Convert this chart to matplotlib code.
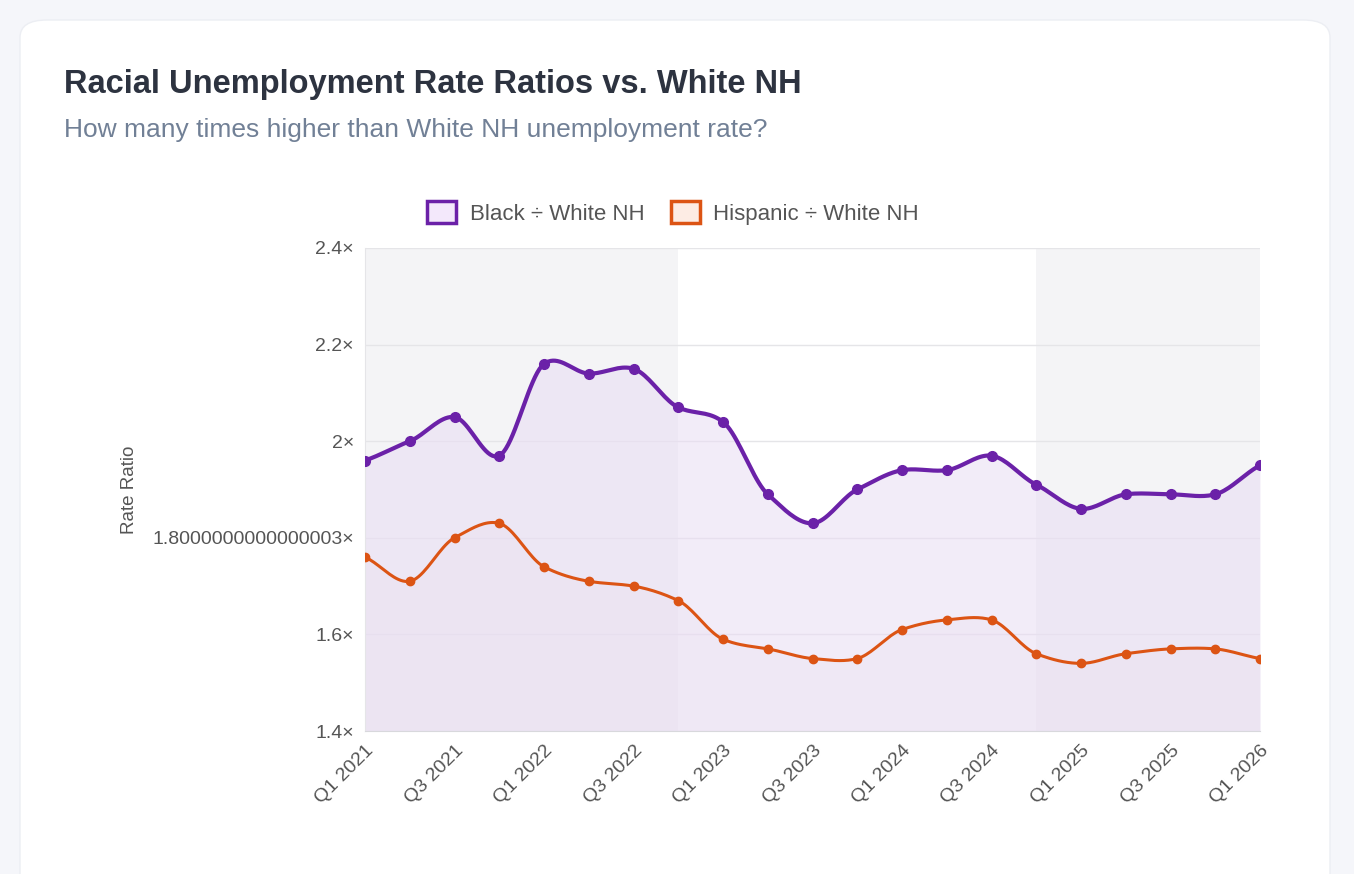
import matplotlib.pyplot as plt
import numpy as np
from matplotlib.patches import FancyBboxPatch

plt.rcParams['font.family'] = ['Liberation Sans', 'DejaVu Sans']

quarters = [f"Q{q} {y}" for y in range(2021, 2027) for q in range(1, 5)][:21]
black_ratio = [1.96, 2.00, 2.05, 1.97, 2.16, 2.14, 2.15, 2.07, 2.04, 1.89, 1.83,
               1.90, 1.94, 1.94, 1.97, 1.91, 1.86, 1.89, 1.89, 1.89, 1.95]
hisp_ratio = [1.76, 1.71, 1.80, 1.83, 1.74, 1.71, 1.70, 1.67, 1.59, 1.57, 1.55,
              1.55, 1.61, 1.63, 1.63, 1.56, 1.54, 1.56, 1.57, 1.57, 1.55]
y_ticks = [1.4, 1.6, 1.8000000000000003, 2.0, 2.2, 2.4]
y_labels = ["1.4×", "1.6×", "1.8000000000000003×", "2×", "2.2×", "2.4×"]
shade_spans = [(0, 7), (15, 20)]

PURPLE = "#6b21a8"
ORANGE = "#dc5414"


def smooth(y, n=20, t=0.4):
    """Cardinal spline through the points, for drawing only."""
    y = np.asarray(y, float)
    x = np.arange(len(y), dtype=float)
    xs, ys = [], []
    for i in range(len(y) - 1):
        m0 = (y[i + 1] - y[max(i - 1, 0)]) * t if i > 0 else (y[1] - y[0]) * t * 2
        m1 = (y[min(i + 2, len(y) - 1)] - y[i]) * t if i < len(y) - 2 else (y[-1] - y[-2]) * t * 2
        s = np.linspace(0, 1, n, endpoint=False)
        h00 = 2 * s**3 - 3 * s**2 + 1
        h10 = s**3 - 2 * s**2 + s
        h01 = -2 * s**3 + 3 * s**2
        h11 = s**3 - s**2
        xs.append(x[i] + s)
        ys.append(h00 * y[i] + h10 * m0 + h01 * y[i + 1] + h11 * m1)
    xs.append([x[-1]])
    ys.append([y[-1]])
    return np.concatenate(xs), np.concatenate(ys)


fig = plt.figure(figsize=(13.54, 8.74), dpi=100)
fig.patch.set_facecolor("#f5f6fa")
card = FancyBboxPatch((20 / 1354, -0.05), 1310 / 1354, 1.0 - 20 / 874 + 0.05,
                      boxstyle="round,pad=0,rounding_size=0.02", transform=fig.transFigure,
                      facecolor="white", edgecolor="#eceef3", zorder=-5)
fig.patches.append(card)

fig.text(64 / 1354, 1 - 85 / 874, "Racial Unemployment Rate Ratios vs. White NH",
         fontsize=23.5, fontweight="bold", color="#2d3340", va="center")
fig.text(64 / 1354, 1 - 130 / 874, "How many times higher than White NH unemployment rate?",
         fontsize=19, color="#718096", va="center")

ax = fig.add_axes([365 / 1354, 1 - 731 / 874, 895 / 1354, 483 / 874])
ax.set_facecolor("white")
for a, b in shade_spans:
    ax.axvspan(a, b, color="#f4f4f6", zorder=0, lw=0)

x = np.arange(len(quarters))
bx, by = smooth(black_ratio)
hx, hy = smooth(hisp_ratio)
ax.fill_between(bx, 1.4, by, color="#e9ddf3", alpha=0.55, lw=0, zorder=1)
ax.fill_between(hx, 1.4, hy, color="#eadff0", alpha=0.3, lw=0, zorder=1)
ax.plot(bx, by, color=PURPLE, lw=3, zorder=3)
ax.plot(hx, hy, color=ORANGE, lw=2.2, zorder=3)
ax.plot(x, black_ratio, "o", color=PURPLE, ms=7, zorder=4)
ax.plot(x, hisp_ratio, "o", color=ORANGE, ms=6, zorder=4)

ax.set_xlim(0, len(quarters) - 1)
ax.set_ylim(1.4, 2.4)
ax.set_yticks(y_ticks)
ax.set_yticklabels(y_labels)
ax.set_xticks(x[::2])
ax.set_xticklabels(quarters[::2], rotation=45, ha="right", rotation_mode="anchor")
ax.grid(axis="y", color="#e5e5e8", lw=1)
ax.set_axisbelow(True)
for s in ["top", "right"]:
    ax.spines[s].set_visible(False)
ax.spines["left"].set_color("#e5e5e8")
ax.spines["bottom"].set_color("#d8d8dc")
ax.tick_params(colors="#555", labelsize=14, length=0, pad=8)
ax.set_ylabel("Rate Ratio", fontsize=13.5, color="#555", labelpad=10)

handles = [plt.Rectangle((0, 0), 1, 1, facecolor="#f3e8fb", edgecolor=PURPLE, lw=2.5),
           plt.Rectangle((0, 0), 1, 1, facecolor="#fdece4", edgecolor=ORANGE, lw=2.5)]
fig.legend(handles, ["Black ÷ White NH", "Hispanic ÷ White NH"], loc="center",
           bbox_to_anchor=(673 / 1354, 1 - 213 / 874), ncol=2, frameon=False,
           fontsize=16, labelcolor="#555", handlelength=1.3, handleheight=1.1,
           columnspacing=1.2, handletextpad=0.6)

fig.savefig("out.png", dpi=100, facecolor=fig.get_facecolor())
